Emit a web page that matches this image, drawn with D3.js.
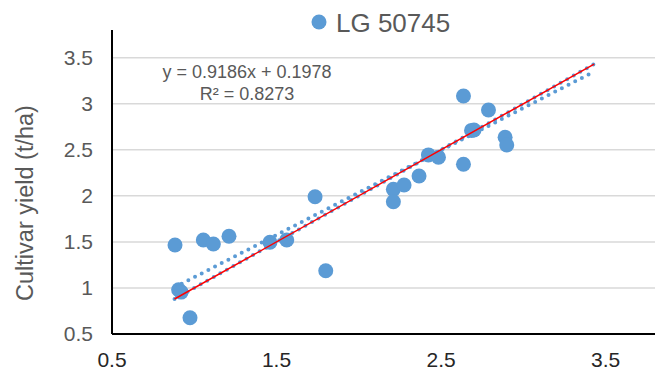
<!DOCTYPE html>
<html>
<head>
<meta charset="utf-8">
<script src="https://cdn.jsdelivr.net/npm/d3@7"></script>
<style>
  body { margin: 0; background: #fff; }
  svg { display: block; font-family: "Liberation Sans", Arial, sans-serif; }
</style>
</head>
<body>
<svg width="668" height="372"></svg>
<script>
// The svg
const svg = d3.select("svg"),
	width = +svg.attr("width"),
	height = +svg.attr("height");

// Data
const xValues = [0.883, 0.905, 0.92, 0.974, 1.055, 1.116, 1.211, 1.46, 1.562, 1.734, 1.799,
	2.21, 2.21, 2.275, 2.366, 2.423, 2.484, 2.636, 2.636, 2.685, 2.70, 2.788, 2.889, 2.899]
const yValues = [1.466, 0.98, 0.955, 0.677, 1.52, 1.477, 1.561, 1.496, 1.52, 1.99, 1.187,
	2.07, 1.936, 2.118, 2.215, 2.444, 2.419, 2.343, 3.084, 2.71, 2.715, 2.932, 2.636, 2.552]
const seriesName = "LG 50745"
const trendSlope = 0.9186
const trendIntercept = 0.1978
const trendRange = [0.883, 3.399]
const oneToOneRange = [0.88, 3.43]
const tickValues = [0.5, 1, 1.5, 2, 2.5, 3, 3.5]
const xTickValues = [0.5, 1.5, 2.5, 3.5]
const equationLines = ["y = 0.9186x + 0.1978", "R² = 0.8273"]
const yTitle = "Cultivar yield (t/ha)"

const blue = "#5B9BD5"

const x = d3.scaleLinear().domain([0.5, 3.8]).range([112, 655])
const y = d3.scaleLinear().domain([0.5, 3.8]).range([334, 30])

// gridlines
svg.append("g")
	.selectAll("line")
	.data(tickValues.slice(1))
	.join("line")
	.attr("x1", x(0.5))
	.attr("x2", x(3.8))
	.attr("y1", d => y(d))
	.attr("y2", d => y(d))
	.attr("stroke", "#D9D9D9")
	.attr("stroke-width", 1.5)

// y tick labels
svg.append("g")
	.selectAll("text")
	.data(tickValues)
	.join("text")
	.attr("x", 93)
	.attr("y", d => y(d))
	.attr("dy", "0.35em")
	.attr("text-anchor", "end")
	.attr("font-size", 21)
	.attr("fill", "#595959")
	.text(d => d)

// x tick labels
svg.append("g")
	.selectAll("text")
	.data(xTickValues)
	.join("text")
	.attr("x", d => x(d))
	.attr("y", 367)
	.attr("text-anchor", "middle")
	.attr("font-size", 21)
	.attr("fill", "#262626")
	.text(d => d)

// axes lines
svg.append("line")
	.attr("x1", x(0.5)).attr("x2", x(0.5))
	.attr("y1", y(3.8)).attr("y2", y(0.5))
	.attr("stroke", "#000").attr("stroke-width", 2)
svg.append("line")
	.attr("x1", x(0.5)).attr("x2", x(3.8))
	.attr("y1", y(0.5)).attr("y2", y(0.5))
	.attr("stroke", "#000").attr("stroke-width", 2)

// points
const points = xValues.map((d, i) => [d, yValues[i]])
svg.append("g")
	.selectAll("circle")
	.data(points)
	.join("circle")
	.attr("cx", d => x(d[0]))
	.attr("cy", d => y(d[1]))
	.attr("r", 7.5)
	.attr("fill", blue)

// dotted lines (trendline and the 1:1 line underneath the red one)
const line = d3.line().x(d => x(d[0])).y(d => y(d[1]))
const trendPts = trendRange.map(v => [v, trendSlope * v + trendIntercept])
const onePts = oneToOneRange.map(v => [v, v])

svg.append("path")
	.attr("d", line(trendPts))
	.attr("fill", "none")
	.attr("stroke", blue)
	.attr("stroke-width", 4)
	.attr("stroke-linecap", "round")
	.attr("stroke-dasharray", "0 7.5")

svg.append("path")
	.attr("d", line(onePts))
	.attr("fill", "none")
	.attr("stroke", blue)
	.attr("stroke-width", 4)
	.attr("stroke-linecap", "round")
	.attr("stroke-dasharray", "0 7.5")

svg.append("path")
	.attr("d", line(onePts))
	.attr("fill", "none")
	.attr("stroke", "#FF0000")
	.attr("stroke-width", 1.5)

// equation label
svg.append("g")
	.selectAll("text")
	.data(equationLines)
	.join("text")
	.attr("x", 247)
	.attr("y", (d, i) => 78 + i * 22)
	.attr("text-anchor", "middle")
	.attr("font-size", 18)
	.attr("fill", "#595959")
	.text(d => d)

// legend
svg.append("circle")
	.attr("cx", 319)
	.attr("cy", 22)
	.attr("r", 7.5)
	.attr("fill", blue)
svg.append("text")
	.attr("x", 336)
	.attr("y", 32)
	.attr("font-size", 26)
	.attr("fill", "#595959")
	.text(seriesName)

// y title
svg.append("text")
	.attr("transform", "translate(33,203) rotate(-90)")
	.attr("text-anchor", "middle")
	.attr("font-size", 23.5)
	.attr("fill", "#595959")
	.text(yTitle)
</script>
</body>
</html>
